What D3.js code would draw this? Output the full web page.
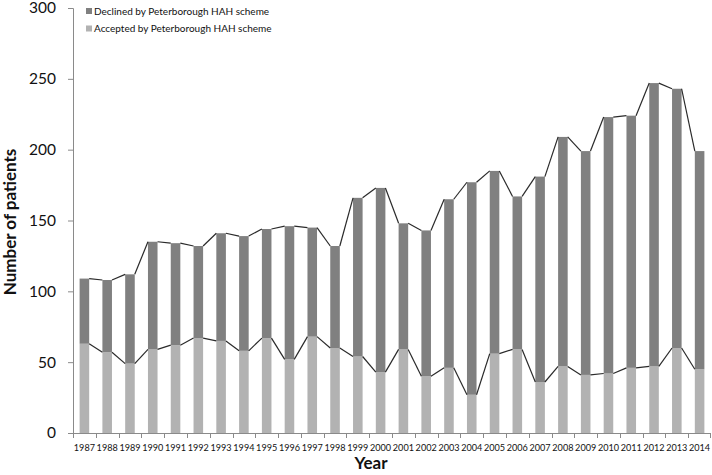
<!DOCTYPE html>
<html>
<head>
<meta charset="utf-8">
<script src="https://cdn.jsdelivr.net/npm/d3@7"></script>
<style>
body { margin: 0; background: #fff; }
text { font-family: Lato, "Open Sans", sans-serif; }
</style>
</head>
<body>
<svg id="chart" width="712" height="475"></svg>
<script>
var years = ["1987","1988","1989","1990","1991","1992","1993","1994","1995","1996","1997","1998","1999","2000",
	"2001","2002","2003","2004","2005","2006","2007","2008","2009","2010","2011","2012","2013","2014"];
var accepted = [63,57,49,59,62,67,65,58,67,52,68,60,54,43,59,40,46,27,56,59,36,47,41,42,46,47,60,45];
var total = [109,108,112,135,134,132,141,139,144,146,145,132,166,173,148,143,165,177,185,167,181,209,199,223,224,247,243,199];
var declined = total.map(function(t, i) { return t - accepted[i]; });
var yTicks = [0,50,100,150,200,250,300];
var legendLabels = ["Declined by Peterborough HAH scheme", "Accepted by Peterborough HAH scheme"];
var colors = ["#808080", "#b2b2b2"];

var svg = d3.select("#chart");
var mLeft = 73, mRight = 711, mTop = 8, mBottom = 433;

var x = d3.scaleBand().domain(years).range([mLeft, mRight]).paddingInner(0.58).paddingOuter(0.29);
var y = d3.scaleLinear().domain([0, 300]).range([mBottom, mTop]);
var bw = x.bandwidth();
var step = x.step();

// stacked bars
var rows = years.map(function(yr, i) { return {year: yr, acc: accepted[i], dec: declined[i]}; });
var stack = d3.stack().keys(["acc", "dec"])(rows);
svg.append("g").selectAll("g").data(stack).enter().append("g")
	.attr("fill", function(s) { return s.key == "acc" ? colors[1] : colors[0]; })
	.selectAll("rect").data(function(s) { return s; }).enter().append("rect")
	.attr("x", function(d) { return x(d.data.year); })
	.attr("y", function(d) { return y(d[1]); })
	.attr("width", bw)
	.attr("height", function(d) { return y(d[0]) - y(d[1]); });

// series lines between bars
[accepted, total].forEach(function(vals) {
	for (var i = 0; i < years.length - 1; i++) {
		svg.append("line")
			.attr("x1", x(years[i]) + bw).attr("y1", y(vals[i]))
			.attr("x2", x(years[i + 1])).attr("y2", y(vals[i + 1]))
			.attr("stroke", "#2a2a2a").attr("stroke-width", 1.2);
	}
});

// y axis
var yAxis = svg.append("g").attr("transform", "translate(" + mLeft + ",0)")
	.call(d3.axisLeft(y).tickValues(yTicks).tickSize(5).tickPadding(12));
yAxis.select(".domain").attr("stroke", "#8a8a8a");
yAxis.selectAll(".tick line").attr("stroke", "#8a8a8a");
yAxis.selectAll("text").attr("font-size", 15.5).attr("fill", "#111");

// x axis
var xg = svg.append("g");
xg.append("line").attr("x1", mLeft).attr("x2", mRight).attr("y1", mBottom + 0.5).attr("y2", mBottom + 0.5).attr("stroke", "#8a8a8a");
years.forEach(function(yr, i) {
	var bx = x(yr) - (step - bw) / 2;
	xg.append("line").attr("x1", Math.round(bx) + 0.5).attr("x2", Math.round(bx) + 0.5)
		.attr("y1", mBottom).attr("y2", mBottom + 5).attr("stroke", "#8a8a8a");
	xg.append("text").attr("x", x(yr) + bw / 2).attr("y", mBottom + 18)
		.attr("text-anchor", "middle").attr("font-size", 9.1).attr("fill", "#111").text(yr);
});
xg.append("line").attr("x1", mRight - 0.5).attr("x2", mRight - 0.5).attr("y1", mBottom).attr("y2", mBottom + 5).attr("stroke", "#8a8a8a");

// axis titles
svg.append("text").attr("x", 371).attr("y", 469).attr("text-anchor", "middle")
	.attr("font-size", 17).attr("font-weight", "bold").attr("fill", "#111").text("Year");
svg.append("text").attr("transform", "translate(16,222) rotate(-90)").attr("text-anchor", "middle")
	.attr("font-size", 17).attr("font-weight", "bold").attr("fill", "#111").text("Number of patients");

// legend
var lg = svg.append("g").selectAll("g").data(legendLabels).enter().append("g")
	.attr("transform", function(d, i) { return "translate(86," + (8 + i * 17.5) + ")"; });
lg.append("rect").attr("width", 6).attr("height", 6).attr("fill", function(d, i) { return colors[i]; });
lg.append("text").attr("x", 8).attr("y", 6.5).attr("font-size", 10).attr("fill", "#111").text(function(d) { return d; });
</script>
</body>
</html>
